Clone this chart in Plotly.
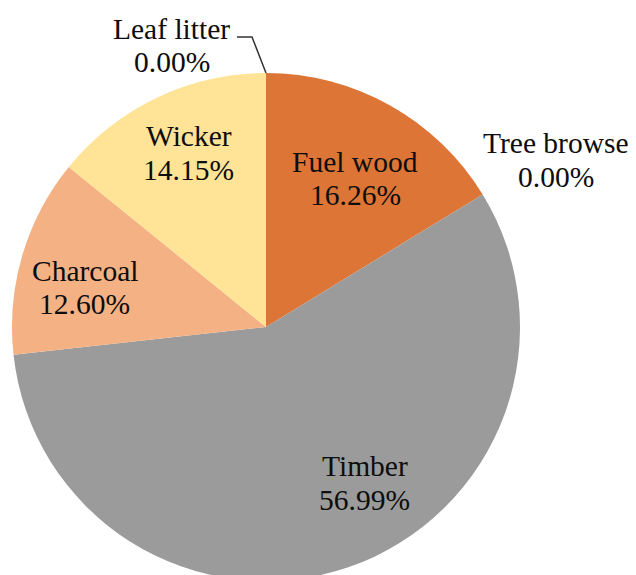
import math
import plotly.graph_objects as go

# ---- data ----
categories = ["Fuel wood", "Tree browse", "Timber", "Charcoal", "Wicker", "Leaf litter"]
shares = [16.26, 0.00, 56.99, 12.60, 14.15, 0.00]
colors = ["#DC7536", "#C8C8C8", "#9B9B9B", "#F4B183", "#FFE397", "#FFE9A8"]

# label placement style: (radius fraction, angular nudge in degrees)
label_style = {
    "Fuel wood": (0.683, 1.6),
    "Tree browse": (1.32, 1.5),
    "Timber": (0.725, -13.5),
    "Charcoal": (0.73, -4),
    "Wicker": (0.75, 1.5),
    "Leaf litter": (1.17, -18.5),
}

OFF = 8  # page body margin
W, H = 636, 600
R = 254
cx, cy = 266 - OFF, 327 - OFF  # pixel center within the figure (from top)

fig = go.Figure(go.Pie(
    labels=categories,
    values=shares,
    sort=False,
    direction="clockwise",
    rotation=0,
    marker=dict(colors=colors, line=dict(width=0)),
    textinfo="none",
    hoverinfo="label+percent",
    showlegend=False,
    domain=dict(x=[(cx - R) / W, (cx + R) / W], y=[1 - (cy + R) / H, 1 - (cy - R) / H]),
))

font_family = "Liberation Serif, Times New Roman, serif"
fs = 29.5
total = sum(shares)
cum = 0.0
for name, v in zip(categories, shares):
    mid = (cum + v / 2) / total * 360.0
    cum += v
    frac, nudge = label_style[name]
    a = math.radians(mid + nudge)
    px = cx + R * frac * math.sin(a)
    py = cy - R * frac * math.cos(a)
    for text, shift in ((name, 16.5), (f"{v:.2f}%", -17)):
        fig.add_annotation(
            x=px / W, y=1 - py / H, xref="paper", yref="paper",
            text=text, showarrow=False, yshift=shift,
            font=dict(family=font_family, size=fs, color="#0d0d0d"),
            xanchor="center", yanchor="middle",
        )

# leader line for Leaf litter (from top of pie to label)
top_x, top_y = cx, cy - R
p0 = (237 - OFF, 37 - OFF)
p1 = (252 - OFF, 37 - OFF)
fig.add_shape(
    type="path", xref="paper", yref="paper",
    path=f"M {p0[0]/W},{1-p0[1]/H} L {p1[0]/W},{1-p1[1]/H} L {top_x/W},{1-top_y/H}",
    line=dict(color="#333333", width=1.5),
)

fig.update_layout(
    width=W, height=H,
    margin=dict(l=0, r=0, t=0, b=0),
    paper_bgcolor="white", plot_bgcolor="white",
)
fig.write_html("out.html")
